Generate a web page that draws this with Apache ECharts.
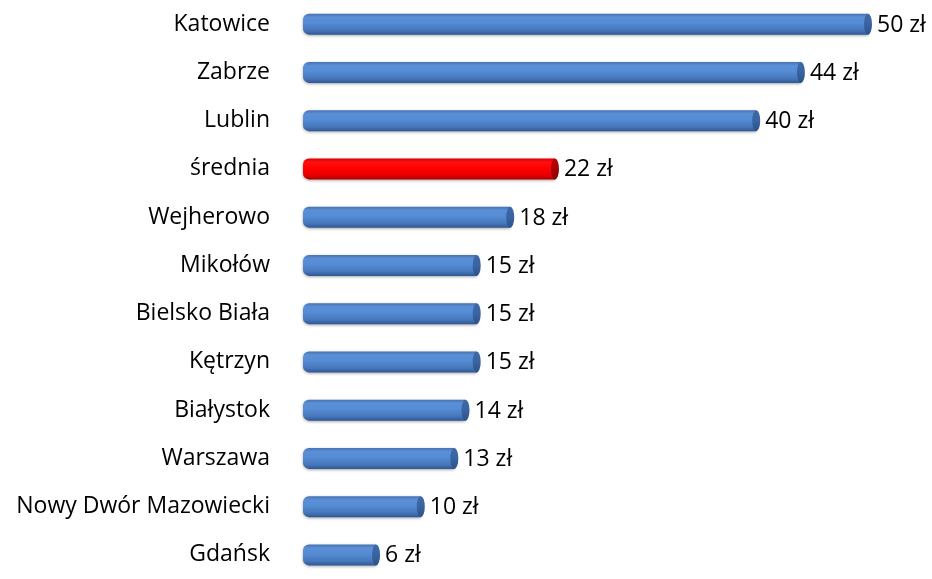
<!DOCTYPE html>
<html>
<head>
<meta charset="utf-8">
<script src="https://cdn.jsdelivr.net/npm/echarts@6/dist/echarts.min.js"></script>
<style>
  html, body { margin: 0; padding: 0; background: #fff; }
  #chart { width: 932px; height: 579px; }
</style>
</head>
<body>
<div id="chart"></div>
<script>
// Cities and their values (zł), top to bottom
const cities = ['Katowice', 'Zabrze', 'Lublin', 'średnia', 'Wejherowo', 'Mikołów',
  'Bielsko Biała', 'Kętrzyn', 'Białystok', 'Warszawa', 'Nowy Dwór Mazowiecki', 'Gdańsk'];
const values = [50, 44, 40, 22, 18, 15, 15, 15, 14, 13, 10, 6];
const highlighted = 'średnia';
const unit = ' zł';

const blueBody = new echarts.graphic.LinearGradient(0, 0, 0, 1, [
  { offset: 0, color: '#4573b3' },
  { offset: 0.18, color: '#5b8fd6' },
  { offset: 0.45, color: '#558cd4' },
  { offset: 0.8, color: '#4676ba' },
  { offset: 1, color: '#2f5894' }
]);
const blueCap = new echarts.graphic.LinearGradient(0, 0, 0, 1, [
  { offset: 0, color: '#3d69a8' },
  { offset: 0.5, color: '#3a64a0' },
  { offset: 1, color: '#2c5188' }
]);
const redBody = new echarts.graphic.LinearGradient(0, 0, 0, 1, [
  { offset: 0, color: '#d80000' },
  { offset: 0.18, color: '#ff1010' },
  { offset: 0.5, color: '#ff0000' },
  { offset: 0.82, color: '#e40000' },
  { offset: 1, color: '#a80000' }
]);
const redCap = new echarts.graphic.LinearGradient(0, 0, 0, 1, [
  { offset: 0, color: '#c00000' },
  { offset: 1, color: '#8c0000' }
]);

const data = values.map((v, i) => [v, cities[i]]);

// Cylinder-like bar: rounded left end, body, darker elliptical end cap, value label
function renderCylinder(params, api) {
  const idx = params.dataIndex;
  const v = api.value(0);
  const p0 = api.coord([0, idx]);
  const p1 = api.coord([v, idx]);
  const h = 21;
  const leftExt = 6;
  const capRx = 4;
  const isRed = cities[idx] === highlighted;
  const top = p1[1] - h / 2;
  return {
    type: 'group',
    children: [
      {
        type: 'rect',
        shape: { x: p0[0] - leftExt, y: top, width: p1[0] - p0[0] + leftExt, height: h, r: [6, 0, 0, 6] },
        style: {
          fill: isRed ? redBody : blueBody,
          shadowBlur: 3, shadowColor: 'rgba(0,0,0,0.35)', shadowOffsetY: 1
        }
      },
      {
        type: 'circle',
        x: p1[0], y: p1[1], scaleX: capRx / (h / 2),
        shape: { cx: 0, cy: 0, r: h / 2 },
        style: { fill: isRed ? redCap : blueCap }
      },
      {
        type: 'text',
        x: p1[0] + capRx + 5, y: p1[1] + 1,
        style: {
          text: v + unit, fill: '#000',
          font: '23px "Open Sans", sans-serif',
          verticalAlign: 'middle', align: 'left'
        }
      }
    ]
  };
}

const chart = echarts.init(document.getElementById('chart'), null, { renderer: 'canvas' });
chart.setOption({
  animation: false,
  backgroundColor: '#ffffff',
  grid: { left: 309, width: 559, top: -2, height: 593, containLabel: false },
  xAxis: {
    type: 'value', min: 0, max: 50, show: false
  },
  yAxis: {
    type: 'category', data: cities, inverse: true,
    axisLine: { show: false }, axisTick: { show: false }, splitLine: { show: false },
    axisLabel: { color: '#000', fontSize: 23, fontFamily: 'Open Sans', margin: 39 }
  },
  series: [{
    type: 'custom',
    data: data,
    encode: { x: 0, y: 1 },
    renderItem: renderCylinder,
    clip: false
  }]
});
</script>
</body>
</html>
